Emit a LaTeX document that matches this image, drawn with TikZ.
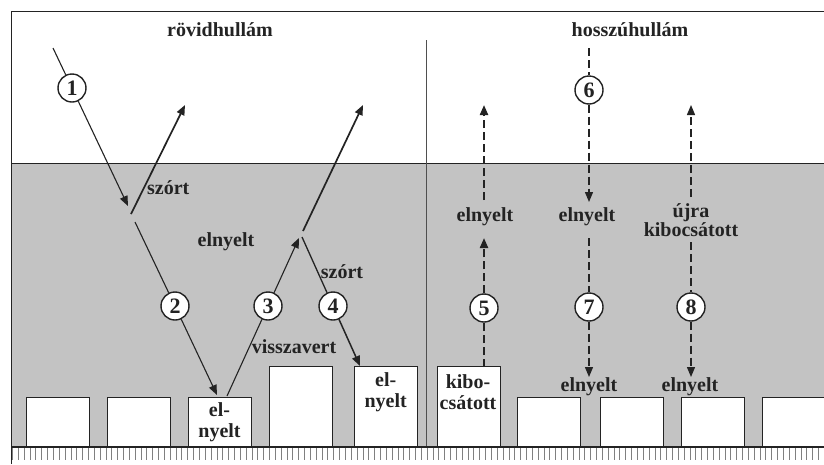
\documentclass[tikz,border=0pt]{standalone}
\usepackage{fontspec}
\setmainfont{Liberation Serif}
\usetikzlibrary{arrows.meta}
\definecolor{bg}{RGB}{195,195,195}
\definecolor{ln}{RGB}{35,35,35}
\begin{document}
\begin{tikzpicture}[x=1pt,y=-1pt,
  lbl/.style={font=\fontsize{20}{21}\selectfont\bfseries, inner sep=0pt, align=center, text=ln},
  num/.style={circle, draw=ln, line width=1.4pt, fill=white, minimum size=28pt, inner sep=0pt, font=\fontsize{22}{22}\selectfont\bfseries, text=ln},
  ray/.style={draw=ln, line width=1.1pt},
  thk/.style={draw=ln, line width=1.7pt},
  tip/.style={-{Triangle[length=10pt,width=8pt]}},
  dsh/.style={draw=ln, line width=1.3pt, dash pattern=on 8pt off 4pt},
  dshk/.style={draw=ln, line width=2.1pt, dash pattern=on 8pt off 4pt},
  blk/.style={draw=ln, line width=0.8pt, fill=white, inner sep=0pt, anchor=south west, minimum width=63pt},
  lowbox/.style={blk, minimum height=49pt},
  highbox/.style={blk, minimum height=80pt},
  tick/.style={draw=black!50, line width=0.8pt}
]
\useasboundingbox (0,0) rectangle (824,464);
\fill[white] (0,0) rectangle (824,464);
\fill[bg] (11,163) rectangle (824,447);
% frame
\draw[ln, line width=1pt] (11,464) -- (11,11) -- (824,11);
\draw[ln, line width=0.8pt] (11,163) -- (824,163);
\draw[ln!80, line width=1pt] (426,40) -- (426,447);
% ground ticks
\foreach \i in {0,...,139} \draw[tick] ({12.5+5.84*\i},447) -- ++(0,13);
\draw[ln, line width=1.5pt] (11,447) -- (824,447);
% boxes
\node[lowbox]  (b1)  at (25.7,447) {};
\node[lowbox]  (b2)  at (107.3,447) {};
\node[lowbox]  (b3)  at (188.3,447) {};
\node[highbox] (b4)  at (269.3,447) {};
\node[highbox] (b5)  at (354,447) {};
\node[highbox] (b6)  at (436.7,447) {};
\node[lowbox]  (b7)  at (517.3,447) {};
\node[lowbox]  (b8)  at (600,447) {};
\node[lowbox]  (b9)  at (680.7,447) {};
\node[lowbox, minimum width=70pt] (b10) at (762.3,447) {};
% titles
\node[lbl] (t1) at (220,30) {rövidhullám};
\node[lbl] (t2) at (630,30) {hosszúhullám};
% short wave rays
\coordinate (a1s) at (53,48);
\coordinate (a1e) at (128,206);
\node[num] (c1) at (72,88) {1};
\draw[ray] (a1s) -- (c1);
\draw[ray, tip] (c1) -- (a1e);
\coordinate (s1s) at (131,214);
\coordinate (s1e) at (185,105);
\draw[thk, tip] (s1s) -- (s1e);
\coordinate (a2s) at (135,222);
\coordinate (a2e) at (217,395);
\node[num] (c2) at (175,306) {2};
\draw[ray] (a2s) -- (c2);
\draw[ray, tip] (c2) -- (a2e);
\coordinate (a3s) at (227,396);
\coordinate (a3e) at (299,238);
\node[num] (c3) at (268,306) {3};
\draw[ray] (a3s) -- (c3);
\draw[ray, tip] (c3) -- (a3e);
\coordinate (s2s) at (303,231);
\coordinate (s2e) at (363,105);
\draw[thk, tip] (s2s) -- (s2e);
\coordinate (a4s) at (302,237);
\coordinate (a4e) at (360,366);
\node[num] (c4) at (333,306) {4};
\draw[ray, line width=1.3pt] (a4s) -- (c4);
\draw[ray, line width=1.5pt, tip] (c4) -- (a4e);
% short wave labels
\node[lbl, anchor=west] (l1) at (147,188) {szórt};
\node[lbl] (l2) at (226,242) {elnyelt};
\node[lbl] (l3) at (342,272) {szórt};
\node[lbl] (l4) at (294,347) {visszavert};
\node[lbl] (l5) at (219.5,422) {el-\\nyelt};
\node[lbl] (l6) at (385.7,392) {el-\\nyelt};
% long wave rays
\coordinate (d5s) at (484,367);
\coordinate (d5e) at (484,238);
\node[num] (c5) at (484,308) {5};
\draw[dshk] (d5s) -- (c5);
\draw[dshk, tip] (c5) -- (d5e);
\coordinate (u5s) at (484,200);
\coordinate (u5e) at (484,105);
\draw[dshk, tip] (u5s) -- (u5e);
\coordinate (d6s) at (589,48);
\coordinate (d6e) at (589,202);
\node[num] (c6) at (589,90) {6};
\draw[dsh] (d6s) -- (c6);
\draw[dsh, tip] (c6) -- (d6e);
\coordinate (d7s) at (589,238);
\coordinate (d7e) at (589,377);
\node[num] (c7) at (589,307) {7};
\draw[dsh] (d7s) -- (c7);
\draw[dsh, tip] (c7) -- (d7e);
\coordinate (d8s) at (691,242);
\coordinate (d8e) at (691,377);
\node[num] (c8) at (691,307) {8};
\draw[dsh] (d8s) -- (c8);
\draw[dsh, tip] (c8) -- (d8e);
\coordinate (u8s) at (691,197);
\coordinate (u8e) at (691,105);
\draw[dsh, tip] (u8s) -- (u8e);
% long wave labels
\node[lbl] (m1) at (468,392) {kibo-\\csátott};
\node[lbl] (m2) at (485,217) {elnyelt};
\node[lbl] (m3) at (587,217) {elnyelt};
\node[lbl, font=\fontsize{20}{19}\selectfont\bfseries] (m4) at (691,220) {újra\\kibocsátott};
\node[lbl] (m5) at (589,387) {elnyelt};
\node[lbl] (m6) at (690,387) {elnyelt};
\end{tikzpicture}
\end{document}
